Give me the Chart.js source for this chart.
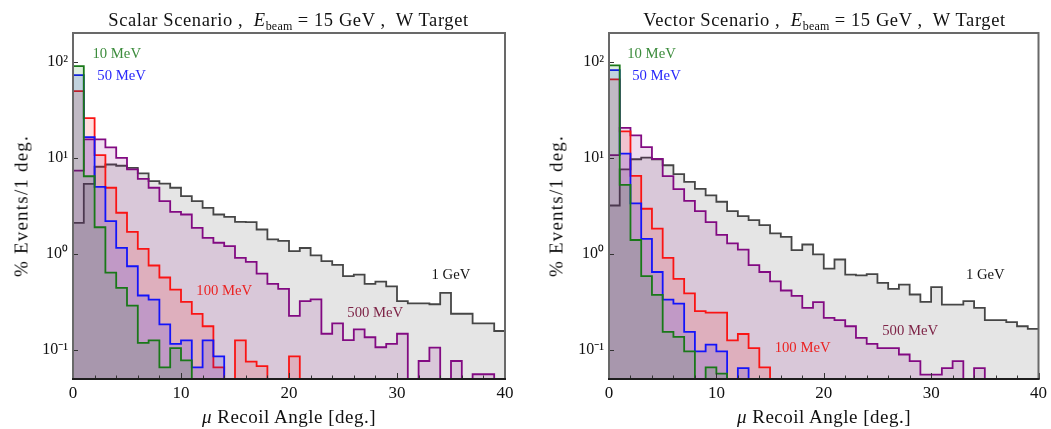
<!DOCTYPE html>
<html>
<head>
<meta charset="utf-8">
<script src="https://cdn.jsdelivr.net/npm/chart.js@4.4.1/dist/chart.umd.min.js"></script>
<style>
  html, body { margin: 0; padding: 0; background: #ffffff; }
  body { width: 1051px; height: 429px; position: relative; overflow: hidden; font-family: "Liberation Serif", serif; color: #111; }
  .panel { position: absolute; top: 0; height: 429px; }
  #panelL { left: 0; width: 525px; }
  #panelR { left: 525px; width: 526px; }
  .title { position: absolute; top: 11px; font-size: 18.5px; line-height: 18px; letter-spacing: 0.6px; white-space: nowrap; transform: translateX(-50%); }
  .title sub { font-size: 12px; letter-spacing: 0.2px; vertical-align: baseline; position: relative; top: 4px; }
  .ytitle { position: absolute; font-size: 19px; line-height: 19px; letter-spacing: 1.2px; white-space: nowrap; transform: translate(-50%, -50%) rotate(-90deg); }
  .xtitle { position: absolute; top: 407px; font-size: 19px; line-height: 19px; letter-spacing: 0.5px; white-space: nowrap; transform: translateX(-50%); }
</style>
</head>
<body>
<div class="panel" id="panelL"><canvas id="cL" width="525" height="429"></canvas></div>
<div class="panel" id="panelR"><canvas id="cR" width="526" height="429"></canvas></div>

<div class="title" style="left:288.5px">Scalar Scenario ,&nbsp; <i>E</i><sub>beam</sub> = 15 GeV ,&nbsp; W Target</div>
<div class="title" style="left:824.5px">Vector Scenario ,&nbsp; <i>E</i><sub>beam</sub> = 15 GeV ,&nbsp; W Target</div>
<div class="ytitle" style="left:21px; top:206px">% Events/1 deg.</div>
<div class="ytitle" style="left:556px; top:206px">% Events/1 deg.</div>
<div class="xtitle" style="left:289px"><i>μ</i> Recoil Angle [deg.]</div>
<div class="xtitle" style="left:824px"><i>μ</i> Recoil Angle [deg.]</div>

<script>
// ---------------- data ----------------
// recoil angle bins (lower edges, degrees), 1-degree wide
const angleBins = [0,1,2,3,4,5,6,7,8,9,10,11,12,13,14,15,16,17,18,19,20,21,22,23,24,25,26,27,28,29,30,31,32,33,34,35,36,37,38,39];
const binWidth = 1;

const seriesNames = ['10 MeV', '50 MeV', '100 MeV', '500 MeV', '1 GeV'];

// Scalar scenario (% events per degree); 0 = empty bin
const scalar10MeV  = [90.4, 6.45, 1.9, 0.64, 0.445, 0.29, 0.119, 0.126, 0.066, 0.105, 0.078, 0, 0, 0, 0, 0, 0, 0, 0, 0, 0, 0, 0, 0, 0, 0, 0, 0, 0, 0, 0, 0, 0, 0, 0, 0, 0, 0, 0, 0];
const scalar50MeV  = [73, 16.5, 5.0, 2.2, 1.16, 0.746, 0.37, 0.336, 0.185, 0.116, 0.126, 0.066, 0.126, 0.086, 0, 0, 0, 0, 0, 0, 0, 0, 0, 0, 0, 0, 0, 0, 0, 0, 0, 0, 0, 0, 0, 0, 0, 0, 0, 0];
const scalar100MeV = [49.6, 26.0, 10.7, 4.9, 2.69, 1.70, 1.13, 0.76, 0.57, 0.427, 0.318, 0.238, 0.177, 0.066, 0, 0.126, 0.076, 0.068, 0, 0, 0.086, 0, 0, 0, 0, 0, 0, 0, 0, 0, 0, 0, 0, 0, 0, 0, 0, 0, 0, 0];
const scalar500MeV = [7.4, 15.6, 15.6, 12.9, 10.0, 7.6, 6.07, 4.9, 3.55, 2.75, 2.58, 1.87, 1.47, 1.31, 1.21, 0.91, 0.83, 0.626, 0.49, 0.434, 0.227, 0.324, 0.337, 0.148, 0.19, 0.127, 0.164, 0.136, 0.107, 0.116, 0.148, 0, 0.077, 0.106, 0, 0.077, 0, 0.056, 0.056, 0];
const scalar1GeV   = [2.11, 5.38, 8.1, 8.55, 8.3, 7.9, 6.9, 5.73, 5.4, 4.9, 4.0, 3.55, 3.02, 2.58, 2.44, 2.16, 2.15, 1.8, 1.42, 1.37, 1.07, 1.155, 0.97, 0.845, 0.77, 0.59, 0.61, 0.49, 0.515, 0.46, 0.324, 0.306, 0.306, 0.30, 0.395, 0.239, 0.239, 0.19, 0.19, 0.158];

// Vector scenario
const vector10MeV  = [92, 5.25, 1.4, 0.59, 0.375, 0.155, 0.137, 0.097, 0, 0.066, 0.057, 0, 0, 0, 0, 0, 0, 0, 0, 0, 0, 0, 0, 0, 0, 0, 0, 0, 0, 0, 0, 0, 0, 0, 0, 0, 0, 0, 0, 0];
const vector50MeV  = [82, 11.1, 3.36, 1.44, 0.65, 0.336, 0.305, 0.155, 0.097, 0.114, 0.097, 0, 0.065, 0, 0, 0, 0, 0, 0, 0, 0, 0, 0, 0, 0, 0, 0, 0, 0, 0, 0, 0, 0, 0, 0, 0, 0, 0, 0, 0];
const vector100MeV = [65.8, 18.9, 6.5, 2.96, 1.84, 0.91, 0.55, 0.39, 0.254, 0.245, 0.245, 0.126, 0.147, 0.105, 0.066, 0, 0, 0, 0, 0, 0, 0, 0, 0, 0, 0, 0, 0, 0, 0, 0, 0, 0, 0, 0, 0, 0, 0, 0, 0];
const vector500MeV = [10.7, 20.6, 17.2, 13.0, 9.8, 6.46, 4.75, 3.57, 2.8, 2.15, 1.58, 1.29, 1.11, 0.766, 0.65, 0.52, 0.417, 0.366, 0.275, 0.315, 0.216, 0.205, 0.177, 0.134, 0.116, 0.105, 0.105, 0.09, 0.0766, 0.0556, 0.0556, 0.065, 0.0766, 0, 0.065, 0, 0, 0, 0, 0];
const vector1GeV   = [3.2, 7.6, 9.7, 10.1, 9.7, 8.4, 6.8, 5.65, 4.77, 4.07, 3.5, 2.8, 2.48, 2.25, 2.0, 1.64, 1.51, 1.1, 1.256, 0.99, 0.706, 0.877, 0.61, 0.60, 0.617, 0.50, 0.434, 0.481, 0.379, 0.318, 0.452, 0.298, 0.298, 0.323, 0.275, 0.205, 0.205, 0.195, 0.177, 0.166];

// axes
const xTickValues = [0, 10, 20, 30, 40];
const xTickLabels = ['0', '10', '20', '30', '40'];
const xMinorTicks = [2, 4, 6, 8, 12, 14, 16, 18, 22, 24, 26, 28, 32, 34, 36, 38];
const yTickValues = [0.1, 1, 10, 100];
const yTickLabels = ['10\u207B\u00B9', '10\u2070', '10\u00B9', '10\u00B2'];
const yRange = [0.05, 200];
const xRange = [0, 40];

// in-plot series labels: [angle, value] anchor (left / middle of text)
const scalarLabelAt = [[1.8, 120], [2.25, 70.7], [11.42, 0.407], [25.4, 0.24], [33.2, 0.61]];
const vectorLabelAt = [[1.7, 120], [2.16, 70.7], [15.43, 0.104], [25.45, 0.156], [33.24, 0.61]];

// ---------------- styling ----------------
const lineColors  = ['rgb(25,120,25)', 'rgb(20,20,250)', 'rgb(250,20,20)', 'rgb(130,10,130)', 'rgb(70,70,70)'];
const fillColors  = ['rgba(0,128,0,0.13)', 'rgba(0,0,255,0.13)', 'rgba(255,0,0,0.13)', 'rgba(128,0,128,0.13)', 'rgba(0,0,0,0.10)'];
const labelColors = ['rgb(60,140,60)', 'rgb(40,40,250)', 'rgb(235,35,35)', 'rgb(125,35,70)', 'rgb(20,20,20)'];

const EMPTY_FLOOR = 1e-4; // empty bins are drawn below the axis floor

function histPoints(values) {
  const pts = angleBins.map((a, i) => ({ x: a, y: values[i] > 0 ? values[i] : EMPTY_FLOOR }));
  pts.push({ x: angleBins[angleBins.length - 1] + binWidth, y: pts[pts.length - 1].y });
  return pts;
}

const overlay = {
  id: 'overlay',
  afterDatasetsDraw(chart, args, opts) {
    const { ctx, chartArea: a, scales: { x, y } } = chart;
    ctx.save();
    // ticks (inside frame)
    ctx.strokeStyle = '#333';
    ctx.lineWidth = 1;
    xTickValues.forEach(v => {
      const px = Math.round(x.getPixelForValue(v)) + 0.5;
      ctx.beginPath(); ctx.moveTo(px, a.bottom); ctx.lineTo(px, a.bottom - 6); ctx.stroke();
    });
    xMinorTicks.forEach(v => {
      const px = Math.round(x.getPixelForValue(v)) + 0.5;
      ctx.beginPath(); ctx.moveTo(px, a.bottom); ctx.lineTo(px, a.bottom - 3.5); ctx.stroke();
    });
    yTickValues.forEach(v => {
      const py = Math.round(y.getPixelForValue(v)) + 0.5;
      ctx.beginPath(); ctx.moveTo(a.left, py); ctx.lineTo(a.left + 5, py); ctx.stroke();
    });
    // frame
    ctx.strokeStyle = 'rgb(105,105,105)';
    ctx.lineWidth = 2;
    ctx.strokeRect(a.left, a.top, a.right - a.left, a.bottom - a.top);
    ctx.strokeStyle = 'rgb(30,30,30)';
    ctx.beginPath(); ctx.moveTo(a.left - 1, a.bottom); ctx.lineTo(a.right + 1, a.bottom); ctx.stroke();
    // series labels
    ctx.font = '14.7px "Liberation Serif"';
    ctx.textAlign = 'left';
    ctx.textBaseline = 'middle';
    opts.labelAt.forEach((p, i) => {
      ctx.fillStyle = labelColors[i];
      ctx.fillText(seriesNames[i], x.getPixelForValue(p[0]), y.getPixelForValue(p[1]));
    });
    ctx.restore();
  }
};

function makeChart(canvasId, seriesList, labelAt, yAxisWidth, padRight) {
  const datasets = seriesList.map((vals, i) => ({
    label: seriesNames[i],
    data: histPoints(vals),
    stepped: 'before',
    borderColor: lineColors[i],
    backgroundColor: fillColors[i],
    borderWidth: 1.8,
    pointRadius: 0,
    fill: 'start',
    tension: 0
  }));
  return new Chart(document.getElementById(canvasId), {
    type: 'line',
    data: { datasets },
    options: {
      responsive: false,
      animation: false,
      devicePixelRatio: 1,
      layout: { padding: { left: 0, right: padRight, top: 33, bottom: 0 } },
      plugins: { legend: { display: false }, tooltip: { enabled: false }, overlay: { labelAt } },
      scales: {
        x: {
          type: 'linear', min: xRange[0], max: xRange[1],
          grid: { display: false, drawTicks: false },
          border: { display: false },
          afterBuildTicks: s => { s.ticks = xTickValues.map(v => ({ value: v })); },
          afterFit: s => { s.height = 50; },
          ticks: {
            padding: 4, color: '#111',
            font: { family: '"Liberation Serif"', size: 17 },
            maxRotation: 0, autoSkip: false,
            callback: v => xTickLabels[xTickValues.indexOf(v)] ?? ''
          }
        },
        y: {
          type: 'logarithmic', min: yRange[0], max: yRange[1],
          grid: { display: false, drawTicks: false },
          border: { display: false },
          afterBuildTicks: s => { s.ticks = yTickValues.map(v => ({ value: v })); },
          afterFit: s => { s.width = yAxisWidth; },
          ticks: {
            padding: 5, color: '#111',
            font: { family: '"Liberation Serif"', size: 16 },
            autoSkip: false,
            callback: v => { const k = yTickValues.findIndex(t => Math.abs(t - v) / t < 1e-6); return k >= 0 ? yTickLabels[k] : ''; }
          }
        }
      }
    },
    plugins: [overlay]
  });
}

makeChart('cL', [scalar10MeV, scalar50MeV, scalar100MeV, scalar500MeV, scalar1GeV], scalarLabelAt, 73, 20);
makeChart('cR', [vector10MeV, vector50MeV, vector100MeV, vector500MeV, vector1GeV], vectorLabelAt, 84, 11);
</script>
</body>
</html>
